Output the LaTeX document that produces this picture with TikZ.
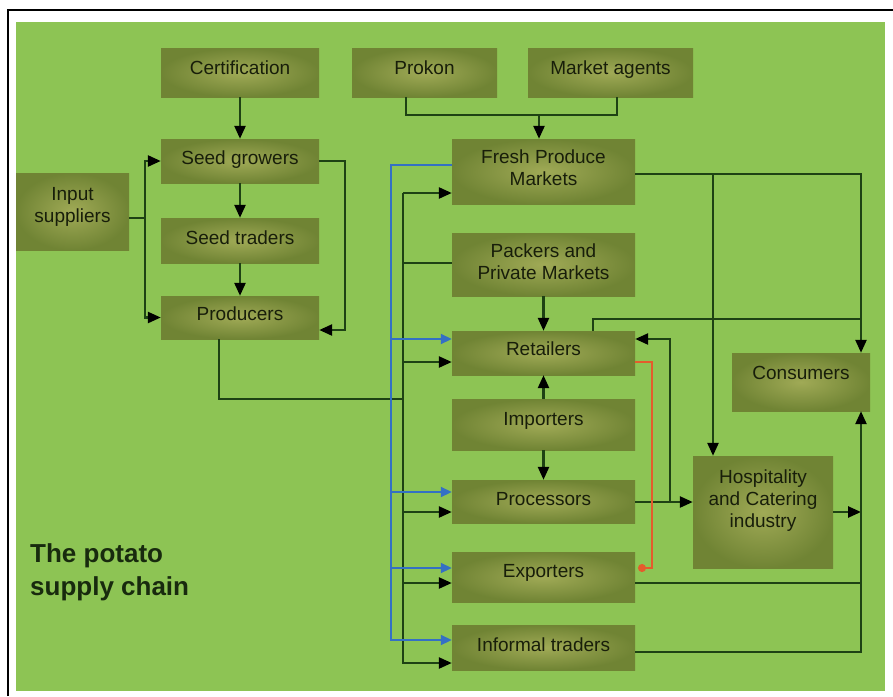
\documentclass[tikz,border=0pt]{standalone}
\usepackage{fontspec}
\setmainfont{Liberation Sans}
\usetikzlibrary{arrows.meta}
\definecolor{bg}{RGB}{141,196,84}
\definecolor{boxin}{RGB}{160,170,86}
\definecolor{boxout}{RGB}{112,132,52}
\definecolor{txt}{RGB}{24,30,10}
\definecolor{ln}{RGB}{30,66,20}
\definecolor{bl}{RGB}{52,112,196}
\definecolor{rd}{RGB}{228,92,44}
\definecolor{ttl}{RGB}{24,42,14}
\newcommand\lift[2]{\raisebox{#1}[0pt][0pt]{\begin{tabular}{@{}c@{}}#2\end{tabular}}}
\begin{document}
\begin{tikzpicture}[x=1pt,y=-1pt,
  box/.style={inner sep=0pt, inner color=boxin, outer color=boxout, text=txt, font=\fontsize{19}{22}\selectfont},
  conn/.style={draw=ln, line width=2.5pt},
  arr/.style={conn, -{Triangle[length=13pt,width=11pt,color=black,fill=black]}},
  bcon/.style={draw=bl, line width=1.8pt},
  barr/.style={bcon, -{Triangle[length=11pt,width=10pt,color=bl,fill=bl]}},
  rcon/.style={draw=rd, line width=1.6pt, -{Circle[length=8pt,color=rd,fill=rd]}}
]
\useasboundingbox (0,0) rectangle (893,696);
\fill[white] (0,0) rectangle (893,696);
\fill[bg] (16,22) rectangle (885,691);
\draw[black, line width=2.4pt] (8,696) -- (8,10) -- (893,10);

% boxes
\node[box, minimum width=158pt, minimum height=49pt] (cert) at (240,72.5) {\lift{-1.5pt}{Certification}};
\node[box, minimum width=145pt, minimum height=49pt] (prokon) at (424.5,72.5) {\lift{-1.5pt}{Prokon}};
\node[box, minimum width=165pt, minimum height=49pt] (ma) at (610.5,72.5) {\lift{-1.5pt}{Market agents}};
\node[box, minimum width=158pt, minimum height=44pt] (sg) at (240,161) {\lift{-3pt}{Seed growers}};
\node[box, minimum width=113pt, minimum height=77pt] (inp) at (72.5,211.5) {\lift{0.5pt}{Input\\suppliers}};
\node[box, minimum width=158pt, minimum height=45pt] (st) at (240,240.5) {\lift{-3.5pt}{Seed traders}};
\node[box, minimum width=158pt, minimum height=43pt] (prod) at (240,317.5) {\lift{-2.5pt}{Producers}};
\node[box, minimum width=183pt, minimum height=65pt] (fpm) at (543.5,171.5) {\lift{-2.5pt}{Fresh Produce\\Markets}};
\node[box, minimum width=183pt, minimum height=63pt] (pack) at (543.5,264.5) {\lift{-4pt}{Packers and\\Private Markets}};
\node[box, minimum width=183pt, minimum height=44pt] (ret) at (543.5,353) {\lift{-2pt}{Retailers}};
\node[box, minimum width=183pt, minimum height=51pt] (imp) at (543.5,424.5) {\lift{-0.5pt}{Importers}};
\node[box, minimum width=183pt, minimum height=43pt] (proc) at (543.5,501.5) {\lift{-3.5pt}{Processors}};
\node[box, minimum width=183pt, minimum height=50pt] (exp) at (543.5,577) {\lift{0pt}{Exporters}};
\node[box, minimum width=183pt, minimum height=45pt] (inf) at (543.5,647.5) {\lift{-3.5pt}{Informal traders}};
\node[box, minimum width=138pt, minimum height=58pt] (cons) at (801,382) {\lift{3pt}{Consumers}};
\node[box, minimum width=140pt, minimum height=112pt] (hosp) at (763,512) {\lift{7pt}{Hospitality\\and Catering\\industry}};

\node[anchor=north west, inner sep=0pt, align=left, text=ttl, font=\fontsize{26}{33}\selectfont\bfseries] (title) at (30,543) {The potato\\supply chain};

% seed chain
\draw[arr] (cert) -- (sg);
\draw[arr] (sg) -- (st);
\draw[arr] (st) -- (prod);
% input suppliers
\coordinate (ij) at (145,218);
\draw[conn] (inp.east |- ij) -- (ij);
\draw[arr] (ij) |- (sg.west);
\draw[arr] (ij) |- (prod.west);
% seed growers to producers
\coordinate (sj) at (345,330);
\draw[arr] (sg.east) -| (sj) -- (prod.east |- sj);
% prokon and market agents
\coordinate (k1) at (406,115);
\coordinate (k2) at (617,115);
\coordinate (km) at (539,115);
\draw[conn] (k1 |- prokon.south) -- (k1) -- (k2) -- (k2 |- ma.south);
\draw[arr] (km) -- (km |- fpm.north);
% black trunk
\coordinate (tt) at (403,193);
\coordinate (tb) at (403,663);
\coordinate (tpk) at (403,263);
\coordinate (tr) at (403,362);
\coordinate (tp) at (403,512);
\coordinate (te) at (403,583);
\draw[arr] (tt) -- (tb) -- (inf.west |- tb);
\draw[arr] (tt) -- (fpm.west |- tt);
\draw[conn] (pack.west |- tpk) -- (tpk);
\draw[arr] (tr) -- (ret.west |- tr);
\draw[arr] (tp) -- (proc.west |- tp);
\draw[arr] (te) -- (exp.west |- te);
% producers to trunk
\coordinate (pj) at (219,399);
\draw[conn] (pj |- prod.south) -- (pj) -- (tt |- pj);
% blue trunk
\coordinate (bt) at (391,165);
\coordinate (bb) at (391,640);
\coordinate (br) at (391,339);
\coordinate (bp) at (391,492);
\coordinate (be) at (391,568);
\draw[barr] (fpm.west |- bt) -- (bt) -- (bb) -- (inf.west |- bb);
\draw[barr] (br) -- (ret.west |- br);
\draw[barr] (bp) -- (proc.west |- bp);
\draw[barr] (be) -- (exp.west |- be);
% packers, importers
\draw[arr] (pack) -- (ret);
\draw[arr] (imp) -- (ret);
\draw[arr] (imp) -- (proc);
% processors to hospitality and retailers
\coordinate (pj2) at (670,502);
\coordinate (rr) at (670,339);
\draw[arr] (proc.east |- pj2) -- (hosp.west |- pj2);
\draw[arr] (pj2) -- (rr) -- (ret.east |- rr);
% fresh produce markets to consumers and hospitality
\coordinate (c1) at (861,174);
\coordinate (h1) at (713,174);
\draw[arr] (fpm.east |- c1) -- (c1) -- (c1 |- cons.north);
\draw[arr] (h1) -- (h1 |- hosp.north);
% retailers to consumers
\coordinate (r1) at (593,319);
\draw[conn] (r1 |- ret.north) -- (r1) -- (c1 |- r1);
% hospitality, exporters, informal traders to consumers
\coordinate (c2) at (861,652);
\coordinate (c3) at (861,583);
\draw[arr] (hosp.east) -- (c1 |- hosp.east);
\draw[conn] (exp.east |- c3) -- (c3);
\draw[arr] (inf.east |- c2) -- (c2) -- (c1 |- cons.south);
% red link
\coordinate (q1) at (652,362);
\coordinate (q2) at (652,568);
\coordinate (qd) at (638,568);
\draw[rcon] (ret.east |- q1) -- (q1) -- (q2) -- (qd);
\end{tikzpicture}
\end{document}
